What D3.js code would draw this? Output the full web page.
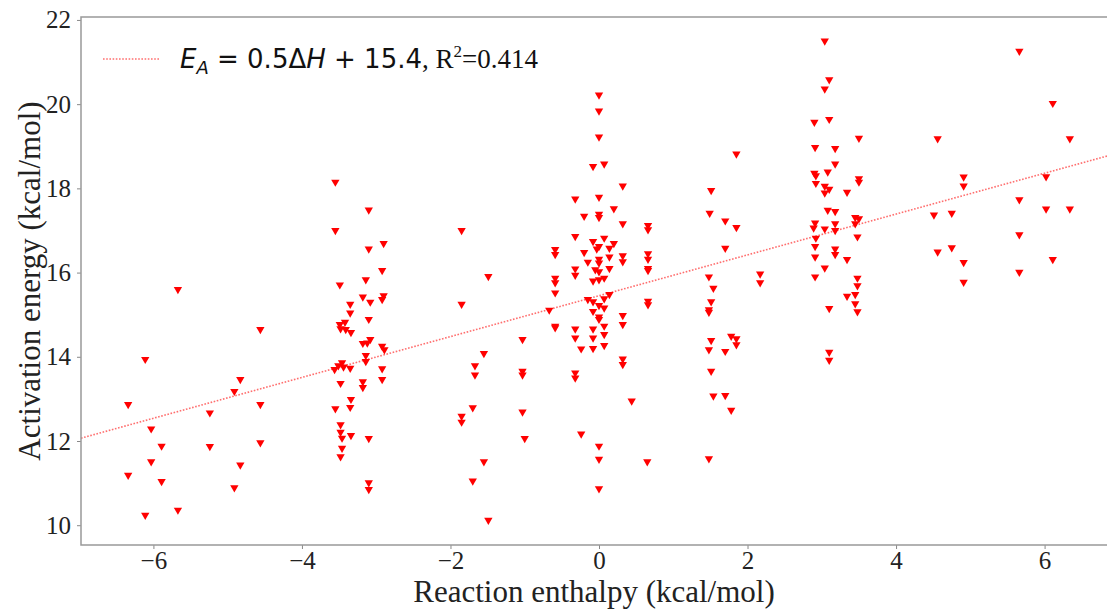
<!DOCTYPE html>
<html>
<head>
<meta charset="utf-8">
<style>
  body { margin: 0; background: #fff; }
  svg { display: block; }
  .tick text { font-family: 'Liberation Serif', 'Times New Roman', serif; font-size: 25px; fill: #222; }
  .axis-title { font-family: 'Liberation Serif', 'Times New Roman', serif; font-size: 31px; fill: #222; }
</style>
</head>
<body>
<svg width="1107" height="609"></svg>
<script src="https://cdn.jsdelivr.net/npm/d3@7"></script>
<script>
// enthalpy (x) and activation energy (y)
const enthalpy = [
  -5.67,-4.56,-6.11,-4.83,-4.91,-6.34,-4.56,-5.24,-6.03,-5.89,-5.24,-4.56,-6.03,-6.34,-4.83,-5.89,-4.91,-6.11,-5.67,
  -3.55,-3.10,-3.55,-2.90,-3.10,-2.92,-3.14,-3.49,-3.18,-2.90,-2.92,-3.08,-3.35,-3.35,-3.10,-3.42,-3.49,-3.48,-3.41,-3.34,
  -3.08,-3.18,-3.12,-2.92,-2.89,-3.14,-3.14,-3.46,-3.51,-3.44,-3.56,-3.35,-2.92,-2.92,-3.48,-3.18,-3.18,-3.34,-3.35,-3.55,
  -3.48,-3.48,-3.34,-3.46,-3.10,-3.46,-3.48,-3.10,-3.10,
  -1.85,-1.49,-1.85,-1.03,-1.55,-1.67,-1.67,-1.03,-1.03,-1.70,-1.85,-1.85,-1.03,-1.00,-1.55,-1.70,-1.49,
  0.00,0.00,0.00,-0.08,0.07,0.32,-0.32,0.00,0.20,-0.20,0.00,0.00,0.32,0.66,0.66,-0.32,0.07,-0.08,0.20,0.00,
  -0.03,0.14,-0.59,-0.59,-0.20,0.32,0.66,0.66,0.14,0.00,-0.15,0.00,0.32,-0.05,0.14,0.66,0.66,0.00,-0.32,-0.32,
  -0.59,-0.59,-0.08,0.00,0.07,-0.59,0.14,-0.15,-0.08,0.07,0.00,0.07,-0.08,-0.67,0.66,0.66,0.00,0.00,0.32,0.32,
  -0.59,-0.59,0.07,-0.32,-0.08,0.07,-0.32,-0.08,-0.24,-0.08,0.07,0.32,0.32,-0.32,-0.32,0.44,-0.24,0.00,0.00,0.65,0.00,
  1.85,1.51,1.49,1.70,1.85,1.70,1.48,1.54,1.51,1.48,1.48,2.17,2.17,1.51,1.48,1.70,1.78,1.85,1.85,1.51,1.54,1.70,1.78,1.48,
  3.04,3.10,3.04,2.90,3.10,3.50,2.91,3.18,3.18,2.90,2.92,3.08,2.92,3.50,3.50,3.04,3.10,3.04,3.34,3.08,3.18,3.45,3.50,3.45,
  2.91,3.18,2.89,3.04,3.18,3.48,2.92,2.91,3.18,3.18,2.91,3.34,3.04,2.91,3.48,3.48,3.34,3.45,3.45,3.48,3.10,3.10,3.10,
  5.66,6.11,4.56,6.34,4.91,4.91,6.02,5.66,4.51,4.75,6.02,6.34,5.66,4.56,4.75,4.91,6.11,4.91,5.66
];
const activation = [
  15.60,14.65,13.94,13.46,13.18,12.87,12.87,12.67,12.29,11.88,11.87,11.96,11.51,11.19,11.43,11.04,10.89,10.24,10.36,
  18.15,17.49,17.00,16.69,16.56,16.05,15.83,15.71,15.42,15.45,15.36,15.30,15.25,15.04,14.89,14.82,14.77,14.67,14.65,14.58,
  14.41,14.32,14.33,14.25,14.17,14.03,13.89,13.86,13.79,13.76,13.70,13.73,13.72,13.46,13.37,13.41,13.27,12.99,12.80,12.77,
  12.39,12.21,12.13,12.07,12.06,11.83,11.63,11.01,10.85,
  17.00,15.91,15.25,14.41,14.08,13.79,13.57,13.66,13.57,12.79,12.59,12.45,12.69,12.06,11.51,11.05,10.12,
  20.22,19.84,19.22,18.52,18.58,18.06,17.75,17.79,17.52,17.34,17.39,17.31,17.16,17.12,17.02,16.86,16.82,16.74,16.69,16.62,
  16.56,16.58,16.55,16.43,16.48,16.40,16.45,16.32,16.37,16.32,16.25,16.23,16.26,16.07,16.10,16.10,16.05,16.02,16.09,15.94,
  15.87,15.76,15.80,15.83,15.87,15.52,15.48,15.36,15.31,15.38,15.22,15.16,15.08,15.11,15.32,15.24,14.95,14.89,14.98,14.77,
  14.73,14.69,14.73,14.66,14.66,14.53,14.45,14.45,14.19,14.20,14.27,13.95,13.82,13.62,13.50,12.95,12.17,11.88,11.57,11.51,10.87,
  18.82,17.95,17.41,17.23,17.07,16.58,15.90,15.63,15.31,15.12,15.06,15.97,15.76,14.39,14.17,14.13,14.49,14.43,14.29,13.66,13.07,13.08,12.73,11.58,
  21.50,20.58,20.36,19.57,19.64,19.19,18.97,18.95,18.58,18.36,18.30,18.39,18.12,18.23,18.15,18.05,17.98,17.89,17.91,17.48,17.45,17.31,17.28,17.16,
  17.18,17.16,17.06,17.04,17.00,16.85,16.82,16.62,16.56,16.43,16.37,16.31,16.11,15.90,15.87,15.69,15.44,15.48,15.26,15.07,15.15,14.11,13.92,
  21.26,20.02,19.18,19.18,18.27,18.06,18.28,17.73,17.37,17.41,17.51,17.51,16.90,16.49,16.59,16.24,16.31,15.77,16.01
];
const fitSlope = 0.485;
const fitIntercept = 15.45;
const xTicks = [-6, -4, -2, 0, 2, 4, 6];
const yTicks = [10, 12, 14, 16, 18, 20, 22];

const svg = d3.select("svg");
const mLeft = 81, mRight = 1117, mTop = 17, mBottom = 545;

const x = d3.scaleLinear().domain([-6.975, 6.975]).range([mLeft, mRight]);
const y = d3.scaleLinear().domain([9.53, 22.07]).range([mBottom, mTop]);

const pts = enthalpy.map((e, i) => [e, activation[i]]);

// fit line
svg.append("line")
  .attr("x1", x(-6.975)).attr("y1", y(fitIntercept + fitSlope * -6.975))
  .attr("x2", x(6.975)).attr("y2", y(fitIntercept + fitSlope * 6.975))
  .attr("stroke", "#ff3030")
  .attr("stroke-opacity", 0.7)
  .attr("stroke-width", 1.6)
  .attr("stroke-dasharray", "1.6,1.6");

const tri = d3.symbol(d3.symbolTriangle, 30);
svg.append("g")
  .selectAll("path")
  .data(pts)
  .join("path")
  .attr("d", tri)
  .attr("transform", d => `translate(${x(d[0])},${y(d[1])}) rotate(180)`)
  .attr("fill", "red");

// axes
const xAxis = svg.append("g")
  .attr("transform", `translate(0,${mBottom})`)
  .call(d3.axisBottom(x).tickValues(xTicks).tickSize(4).tickPadding(2).tickFormat(d => d < 0 ? "\u2212" + Math.abs(d) : d));
const yAxis = svg.append("g")
  .attr("transform", `translate(${mLeft},0)`)
  .call(d3.axisLeft(y).tickValues(yTicks).tickSize(4).tickPadding(6));
[xAxis, yAxis].forEach(a => {
  a.select(".domain").remove();
  a.selectAll(".tick line").attr("stroke", "#888").attr("stroke-width", 1);
});

// frame (right side falls outside the picture)
svg.append("rect")
  .attr("x", mLeft).attr("y", mTop)
  .attr("width", mRight - mLeft).attr("height", mBottom - mTop)
  .attr("fill", "none").attr("stroke", "#999").attr("stroke-width", 1.5);

svg.append("text")
  .attr("class", "axis-title")
  .attr("x", 594).attr("y", 601.5)
  .attr("text-anchor", "middle")
  .text("Reaction enthalpy (kcal/mol)");

svg.append("text")
  .attr("class", "axis-title")
  .attr("transform", "translate(40,281) rotate(-90)")
  .attr("text-anchor", "middle")
  .text("Activation energy (kcal/mol)");

// legend
const lg = svg.append("g");
lg.append("line")
  .attr("x1", 103).attr("x2", 159).attr("y1", 59).attr("y2", 59)
  .attr("stroke", "#ff3030").attr("stroke-opacity", 0.7)
  .attr("stroke-width", 1.6).attr("stroke-dasharray", "1.6,1.6");
const lt = lg.append("text")
  .attr("x", 180).attr("y", 68)
  .style("font-family", "'DejaVu Sans', sans-serif")
  .style("font-size", "26px")
  .attr("fill", "#111");
lt.append("tspan").style("font-style", "italic").text("E");
lt.append("tspan").style("font-style", "italic").style("font-size", "18px").attr("dy", 6).text("A");
lt.append("tspan").attr("dy", -6).text(" = 0.5\u0394");
lt.append("tspan").style("font-style", "italic").text("H");
lt.append("tspan").text(" + 15.4");
lt.append("tspan").style("font-family", "'Liberation Serif', serif").style("font-size", "27px").text(", R");
lt.append("tspan").style("font-family", "'Liberation Serif', serif").style("font-size", "17px").attr("dy", -11).text("2");
lt.append("tspan").style("font-family", "'Liberation Serif', serif").style("font-size", "27px").attr("dy", 11).text("=0.414");
</script>
</body>
</html>
